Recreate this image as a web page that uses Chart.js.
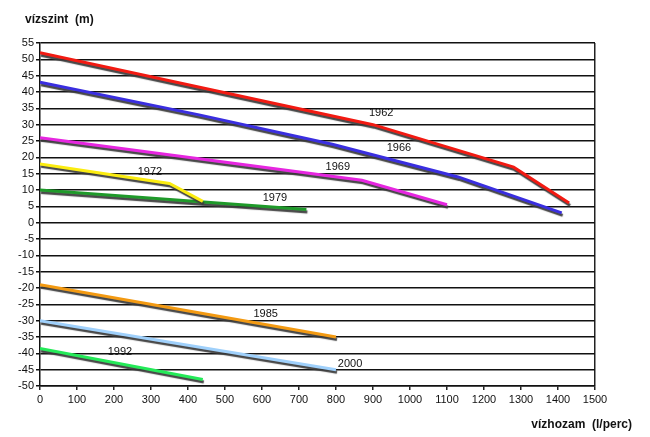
<!DOCTYPE html>
<html>
<head>
<meta charset="utf-8">
<script src="https://cdn.jsdelivr.net/npm/chart.js@4/dist/chart.umd.min.js"></script>
<style>
html,body{margin:0;padding:0;background:#fff;}
#wrap{width:650px;height:437px;}
</style>
</head>
<body>
<div id="wrap"><canvas id="c" width="650" height="437"></canvas></div>
<script>
// ---- data ----
const seriesNames = ['1962', '1966', '1969', '1972', '1979', '1985', '2000', '1992'];
const flow1962 = [0, 900, 1280, 1430];
const level1962 = [52, 30, 17, 6];
const flow1966 = [0, 430, 790, 1130, 1410];
const level1966 = [43, 33, 24, 14, 3];
const flow1969 = [0, 870, 1100];
const level1969 = [26, 13, 5.5];
const flow1972 = [0, 350, 440];
const level1972 = [18, 12, 6.5];
const flow1979 = [0, 720];
const level1979 = [10, 4];
const flow1985 = [0, 800];
const level1985 = [-19, -35];
const flow2000 = [0, 800];
const level2000 = [-30, -45];
const flow1992 = [0, 440];
const level1992 = [-38.5, -48];
// label anchor points (data units)
const labelFlow = [922, 970, 805, 297, 635, 610, 838, 216];
const labelLevel = [33.5, 22.8, 16.9, 15.4, 7.7, -28, -43.4, -39.7];
// axis ticks
const xTicks = [0, 100, 200, 300, 400, 500, 600, 700, 800, 900, 1000, 1100, 1200, 1300, 1400, 1500];
const yTicks = [55, 50, 45, 40, 35, 30, 25, 20, 15, 10, 5, 0, -5, -10, -15, -20, -25, -30, -35, -40, -45, -50];

const flows = [flow1962, flow1966, flow1969, flow1972, flow1979, flow1985, flow2000, flow1992];
const levels = [level1962, level1966, level1969, level1972, level1979, level1985, level2000, level1992];
const colors = ['#f21a12', '#3a2ee0', '#e626e0', '#fbec10', '#1f9a2a', '#f39a12', '#9fd0fb', '#24ea58'];

const datasets = seriesNames.map((n, i) => ({
  label: n,
  data: flows[i].map((f, j) => ({x: f, y: levels[i][j]})),
  borderColor: colors[i],
  borderWidth: 3,
  pointRadius: 0,
  tension: 0,
  fill: false
}));

const FONT = "'Liberation Sans', Arial, sans-serif";

const shadowPlugin = {
  id: 'shadow',
  beforeDatasetDraw(chart) {
    const ctx = chart.ctx;
    ctx.save();
    ctx.shadowColor = 'rgba(60,60,60,0.95)';
    ctx.shadowOffsetX = 1;
    ctx.shadowOffsetY = 2.5;
    ctx.shadowBlur = 1;
  },
  afterDatasetDraw(chart) {
    chart.ctx.restore();
  }
};

const textPlugin = {
  id: 'texts',
  afterDraw(chart) {
    const ctx = chart.ctx;
    const xs = chart.scales.x, ys = chart.scales.y;
    ctx.save();
    ctx.fillStyle = '#111';
    ctx.textAlign = 'center';
    ctx.textBaseline = 'middle';
    ctx.font = '11px ' + FONT;
    seriesNames.forEach((n, i) => {
      ctx.fillText(n, xs.getPixelForValue(labelFlow[i]), ys.getPixelForValue(labelLevel[i]));
    });
    ctx.font = 'bold 12px ' + FONT;
    ctx.textAlign = 'left';
    ctx.fillText('vízszint  (m)', 25, 20);
    ctx.textAlign = 'right';
    ctx.fillText('vízhozam  (l/perc)', 632, 425);
    ctx.restore();
  }
};

new Chart(document.getElementById('c'), {
  type: 'line',
  data: {datasets},
  options: {
    responsive: false,
    animation: false,
    devicePixelRatio: 1,
    layout: {padding: {left: 0, right: 55, top: 43, bottom: 0}},
    plugins: {legend: {display: false}, tooltip: {enabled: false}, title: {display: false}},
    scales: {
      x: {
        type: 'linear',
        min: 0, max: 1500,
        afterBuildTicks(scale) { scale.ticks = xTicks.map(v => ({value: v})); },
        afterFit(scale) { scale.height = 51; },
        grid: {
          drawOnChartArea: true,
          color: c => (c.tick && c.tick.value === 1500) ? '#222' : 'rgba(0,0,0,0)',
          lineWidth: 1.5,
          tickColor: '#222',
          tickLength: 4
        },
        border: {display: true, color: '#111', width: 1.5},
        ticks: {color: '#111', font: {size: 11, family: FONT}, padding: 3, maxRotation: 0, autoSkip: false,
          callback: v => String(v)}
      },
      y: {
        min: -50, max: 55,
        afterBuildTicks(scale) { scale.ticks = yTicks.map(v => ({value: v})); },
        afterFit(scale) { scale.width = 40; },
        grid: {color: '#111', lineWidth: 1.5, tickColor: '#111', tickLength: 4},
        border: {display: true, color: '#111', width: 1.5},
        ticks: {color: '#111', font: {size: 11, family: FONT}, padding: 2, autoSkip: false,
          callback: v => String(v)}
      }
    }
  },
  plugins: [shadowPlugin, textPlugin]
});
</script>
</body>
</html>
